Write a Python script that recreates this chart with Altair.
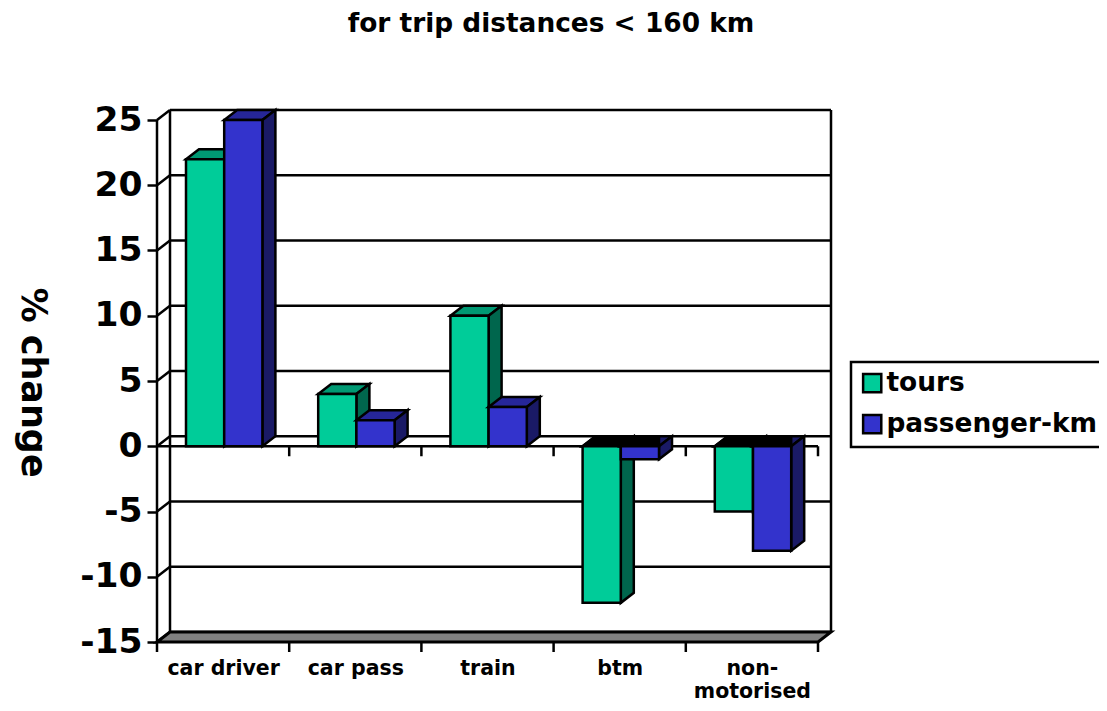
import altair as alt
import pandas as pd

categories = ["car driver", "car pass", "train", "btm", "non-motorised"]
tours = [22, 4, 10, -12, -5]
passenger_km = [25, 2, 3, -1, -8]
y_ticks = [-15, -10, -5, 0, 5, 10, 15, 20, 25]
series_names = ["tours", "passenger-km"]

FONT = "DejaVu Sans"
W, H = 674, 532
DX, DY = 13 / 132.2, 10 / 13.05          # depth of the fake 3-D box, in data units
YMIN, YMAX = -15, 25
BAR0, BARW = 29 / 132.2, 38.2 / 132.2
LW = 2.5

xs = alt.Scale(domain=[0, 5 + DX], zero=False, nice=False)
ys = alt.Scale(domain=[YMIN, YMAX + DY], zero=False, nice=False)

names_js = "['car driver','car pass','train','btm',['non-','motorised']]"
x_axis = alt.Axis(
    values=[i + 0.5 for i in range(len(categories))],
    labelExpr=f"{names_js}[floor(datum.value)]",
    title=None, domain=False, ticks=False, grid=False, labelPadding=16,
    labelFont=FONT, labelFontSize=20.5, labelFontWeight="bold", labelColor="black",
    labelLineHeight=23.5, labelOverlap=False, labelBaseline="top",
)
y_axis = alt.Axis(
    values=y_ticks, title="% change", domain=False, grid=False,
    labelExpr="'' + datum.value",
    tickSize=10, tickWidth=LW, tickColor="black", labelPadding=5,
    labelFont=FONT, labelFontSize=34.5, labelFontWeight="bold", labelColor="black",
    titleFont=FONT, titleFontSize=35, titleFontWeight="bold", titleColor="black",
    titleAngle=90, titleX=-125, titleY=272, titleBaseline="middle", titleAlign="center",
)
X = lambda f="x": alt.X(f"{f}:Q", scale=xs, axis=x_axis, stack=False)
Y = lambda f="y": alt.Y(f"{f}:Q", scale=ys, axis=y_axis, stack=False)


def hpoly(rows, fill, sw=LW):
    return alt.Chart(pd.DataFrame(rows)).mark_area(
        orient="horizontal", fill=fill, stroke="black", strokeWidth=sw, opacity=1
    ).encode(y=Y(), x=X(), x2="x2:Q", detail="id:N")


def vpoly(rows, fill, sw=LW):
    return alt.Chart(pd.DataFrame(rows)).mark_area(
        orient="vertical", fill=fill, stroke="black", strokeWidth=sw, opacity=1
    ).encode(x=X(), y=Y(), y2="y2:Q", detail="id:N")


def rules_h(rows, sw=LW):
    return alt.Chart(pd.DataFrame(rows)).mark_rule(color="black", strokeWidth=sw).encode(
        x=X(), x2="x2:Q", y=Y()
    )


def rules_v(rows, sw=LW):
    return alt.Chart(pd.DataFrame(rows)).mark_rule(color="black", strokeWidth=sw).encode(
        x=X(), y=Y(), y2="y2:Q"
    )


# ---- box: walls, grid, floor
grid = rules_h([{"x": DX, "x2": 5 + DX, "y": t + DY} for t in y_ticks])
diag_rows = []
for t in y_ticks:
    diag_rows += [{"id": t, "x": 0, "y": t}, {"id": t, "x": DX, "y": t + DY}]
diag = alt.Chart(pd.DataFrame(diag_rows)).mark_line(color="black", strokeWidth=LW).encode(
    x=X(), y=Y(), detail="id:N"
)
walls = rules_v([
    {"x": 0, "y": YMIN, "y2": YMAX},
    {"x": DX, "y": YMIN + DY, "y2": YMAX + DY},
    {"x": 5 + DX, "y": YMIN + DY, "y2": YMAX + DY},
])
floor = hpoly([
    {"id": 0, "y": YMIN, "x": 0, "x2": 5},
    {"id": 0, "y": YMIN + DY, "x": DX, "x2": 5 + DX},
], "#808080", 3)
front = rules_h([{"x": 0, "x2": 5, "y": 0}])
tick_rows = []
for i in range(6):
    tick_rows.append({"x": i, "y": YMIN, "y2": YMIN - 10 / 13.05})
    if i:
        tick_rows.append({"x": i, "y": 0, "y2": -10 / 13.05})
ticks = rules_v(tick_rows)


# ---- bars
def series_layers(values, name, slot, top_col, side_col):
    tops, darks, sides, over, fronts = [], [], [], [], []
    for i, v in enumerate(values):
        xl = i + BAR0 + slot * BARW
        xr = xl + BARW
        hi, lo = max(v, 0), min(v, 0)
        rows = [
            {"id": i, "y": hi, "x": xl, "x2": xr},
            {"id": i, "y": hi + DY, "x": xl + DX, "x2": xr + DX},
        ]
        if v >= 0:
            tops += rows
        else:
            darks += rows
            over += [
                {"id": i, "y": 0, "x": xl, "x2": xr},
                {"id": i, "y": DY, "x": xl + DX, "x2": xr + (DX if slot == 0 else 0)},
            ]
        sides += [
            {"id": i, "x": xr, "y": hi, "y2": lo},
            {"id": i, "x": xr + DX, "y": hi + DY, "y2": lo + DY},
        ]
        fronts.append({"x": xl, "x2": xr, "y": v, "y2": 0, "series": name})
    layers = [hpoly(tops, top_col)]
    if darks:
        layers.append(hpoly(darks, side_col))
    layers.append(vpoly(sides, side_col))
    if over:
        layers.append(hpoly(over, "black"))
    layers.append(
        alt.Chart(pd.DataFrame(fronts)).mark_rect(stroke="black", strokeWidth=LW, opacity=1).encode(
            x=X(), x2="x2:Q", y=Y(), y2="y2:Q",
            color=alt.Color("series:N", scale=alt.Scale(
                domain=series_names, range=["#00CC99", "#3333CC"]),
                legend=alt.Legend(
                    title=None, orient="none", legendX=694, legendY=252,
                    symbolType="square", symbolSize=330, symbolStrokeColor="black",
                    symbolStrokeWidth=LW, symbolOpacity=1,
                    labelFont=FONT, labelFontSize=26.4, labelFontWeight="bold", labelColor="black",
                    labelOffset=1, rowPadding=12, padding=8, strokeColor="black",
                    fillColor="white", labelLimit=400,
                )),
        )
    )
    return layers


chart = alt.layer(
    grid, diag, walls, floor, front, ticks,
    *series_layers(tours, series_names[0], 0, "#009973", "#00664D"),
    *series_layers(passenger_km, series_names[1], 1, "#262699", "#1A1A66"),
).properties(
    width=W, height=H,
    padding={"left": 149, "top": 102, "right": 268, "bottom": 61},
    autosize=alt.AutoSizeParams(type="none"),
    title=alt.TitleParams(
        "for trip distances < 160 km", font=FONT, fontSize=26.4, fontWeight="bold",
        color="black", anchor="middle", dx=57, dy=7, offset=72,
    ),
).configure_view(stroke=None).configure_legend(strokeWidth=LW)

chart.save("out.html", embed_options={"renderer": "svg", "actions": False})
